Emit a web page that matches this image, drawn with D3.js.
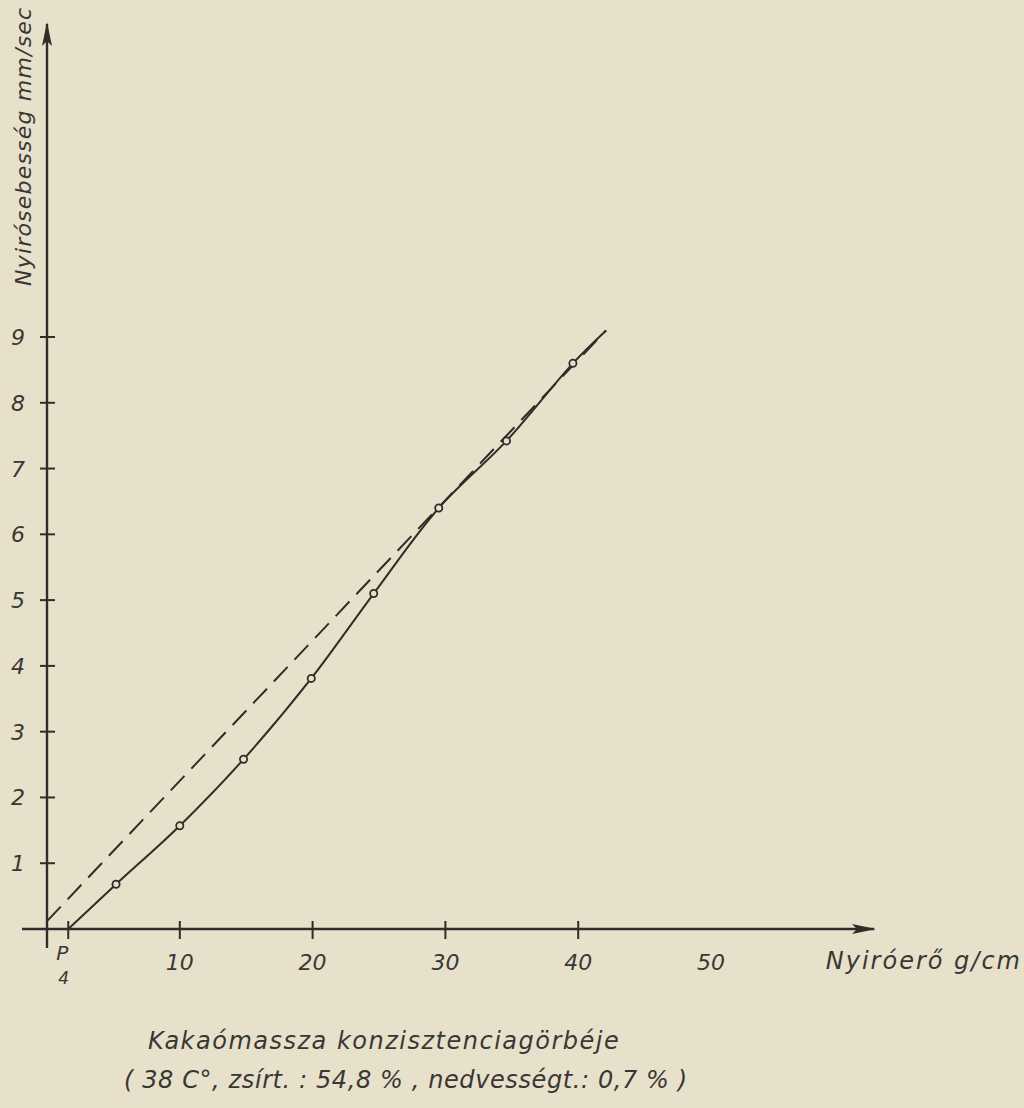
<!DOCTYPE html>
<html><head><meta charset="utf-8">
<script src="https://cdn.jsdelivr.net/npm/d3@7"></script>
<style>
html,body{margin:0;padding:0;background:#e7e1cb;}
svg{display:block;}
text{font-family:"DejaVu Sans",sans-serif;font-style:italic;fill:#3a3733;}
</style></head>
<body><svg id="c" width="1024" height="1108"></svg>
<script>
// Data
const measuredX = [5.2, 10.0, 14.8, 19.9, 24.6, 29.5, 34.6, 39.6];
const measuredY = [0.68, 1.57, 2.58, 3.81, 5.1, 6.4, 7.42, 8.6];
const curveStart = [1.6, 0];
const curveEnd = [42.1, 9.1];
const dashedX = [0, 42.1];
const dashedY = [0.12, 9.1];
const xTicks = [10, 20, 30, 40, 50];
const yTicks = [1, 2, 3, 4, 5, 6, 7, 8, 9];
const yieldTick = 1.6;
const yieldLabel = "P";
const yieldSub = "4";
const xTitle = "Nyiróerő  g/cm";
const yTitle = "Nyirósebesség  mm/sec";
const caption1 = "Kakaómassza  konzisztenciagörbéje";
const caption2 = "( 38 C°,  zsírt. : 54,8 % ,  nedvességt.: 0,7 % )";

const svg = d3.select("#c");
const ink = "#2f2c29";
const x = d3.scaleLinear().domain([0, 50]).range([47, 711]);
const y = d3.scaleLinear().domain([0, 9]).range([929, 337]);

const defs = svg.append("defs");
defs.append("marker").attr("id","arr").attr("viewBox","0 0 24 12").attr("refX",22).attr("refY",6)
  .attr("markerWidth",24).attr("markerHeight",12).attr("markerUnits","userSpaceOnUse").attr("orient","auto")
  .append("path").attr("d","M0,1 L24,6 L0,11 L5,6 Z").attr("fill",ink);

svg.append("line").attr("x1",22).attr("y1",y(0)).attr("x2",874).attr("y2",y(0))
  .attr("stroke",ink).attr("stroke-width",2.4).attr("marker-end","url(#arr)");
svg.append("line").attr("x1",x(0)).attr("y1",948).attr("x2",x(0)).attr("y2",24)
  .attr("stroke",ink).attr("stroke-width",2.4).attr("marker-end","url(#arr)");

// x ticks
const xt = svg.append("g");
xt.selectAll("line").data(xTicks.filter(d=>d<=40)).join("line")
  .attr("x1",d=>x(d)).attr("x2",d=>x(d)).attr("y1",y(0)-8).attr("y2",y(0)+10)
  .attr("stroke",ink).attr("stroke-width",2);
xt.append("line").attr("x1",x(yieldTick)).attr("x2",x(yieldTick)).attr("y1",y(0)-8).attr("y2",y(0)+10)
  .attr("stroke",ink).attr("stroke-width",2);
xt.selectAll("text").data(xTicks).join("text")
  .attr("x",d=>x(d)).attr("y",970).attr("text-anchor","middle").attr("font-size",22).text(d=>d);
svg.append("text").attr("x",x(yieldTick)-12).attr("y",960).attr("font-size",20).text(yieldLabel);
svg.append("text").attr("x",x(yieldTick)-10).attr("y",984).attr("font-size",17).text(yieldSub);

// y ticks
const yt = svg.append("g");
yt.selectAll("line").data(yTicks).join("line")
  .attr("x1",x(0)-7).attr("x2",x(0)+8).attr("y1",d=>y(d)).attr("y2",d=>y(d))
  .attr("stroke",ink).attr("stroke-width",2);
yt.selectAll("text").data(yTicks).join("text")
  .attr("x",18).attr("y",d=>y(d)+8).attr("text-anchor","middle").attr("font-size",22).text(d=>d);

// dashed straight line
svg.append("path")
  .attr("d", d3.line().x(d=>x(d[0])).y(d=>y(d[1]))(dashedX.map((v,i)=>[v,dashedY[i]])))
  .attr("fill","none").attr("stroke",ink).attr("stroke-width",2).attr("stroke-dasharray","20,10");

// solid curve through measured points
const pts = [curveStart].concat(measuredX.map((v,i)=>[v,measuredY[i]])).concat([curveEnd]);
svg.append("path")
  .attr("d", d3.line().x(d=>x(d[0])).y(d=>y(d[1])).curve(d3.curveCatmullRom.alpha(0.5))(pts))
  .attr("fill","none").attr("stroke",ink).attr("stroke-width",2);

// measured points
svg.selectAll("circle.pt").data(measuredX.map((v,i)=>[v,measuredY[i]])).join("circle")
  .attr("class","pt").attr("cx",d=>x(d[0])).attr("cy",d=>y(d[1])).attr("r",3.6)
  .attr("fill","#e7e1cb").attr("stroke",ink).attr("stroke-width",1.8);

// titles
svg.append("text").attr("x",1022).attr("y",969).attr("text-anchor","end").attr("font-size",24)
  .attr("letter-spacing",2).text(xTitle);
svg.append("text").attr("transform","translate(31,286) rotate(-90)").attr("font-size",22)
  .attr("letter-spacing",1.2).text(yTitle);
svg.append("text").attr("x",148).attr("y",1049).attr("font-size",24).attr("letter-spacing",1.5).text(caption1);
svg.append("text").attr("x",124).attr("y",1088).attr("font-size",24).attr("letter-spacing",0.6).text(caption2);
</script></body></html>
